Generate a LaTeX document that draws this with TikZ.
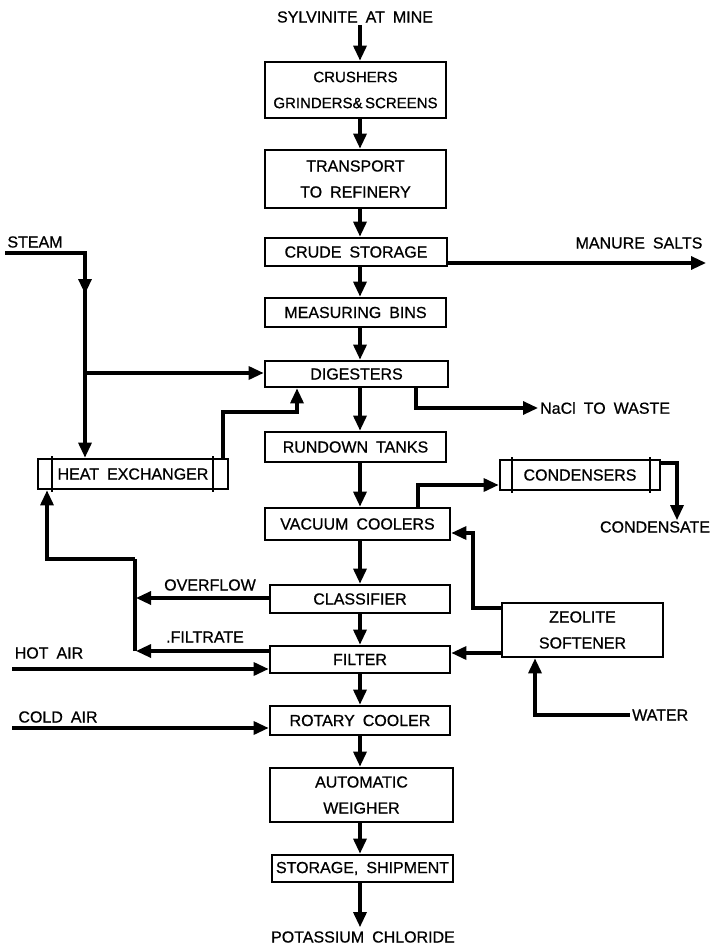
\documentclass[tikz,border=0pt]{standalone}
\usepackage{fontspec}
\setmainfont[FakeBold=0.7,WordSpace=1.8]{Liberation Sans}
\usetikzlibrary{arrows.meta}
\begin{document}
\begin{tikzpicture}[x=1pt,y=-1pt,
  lab/.style={font=\fontsize{16}{26}\selectfont, inner sep=2pt, align=center},
  box/.style={draw, line width=2.7pt, inner sep=0pt, align=center,
    font=\fontsize{16}{26}\selectfont},
  pipe/.style={line width=3.2pt, line join=miter},
  flow/.style={pipe, -{Triangle[length=15pt,width=13pt]}},
  tubeline/.style={line width=1.8pt}
]
\fill[white] (0,0) rectangle (710,947);
\useasboundingbox (0,0) rectangle (710,947);

\coordinate (col) at (360,0);

% main column boxes
\node[box, minimum width=181, minimum height=56, font=\fontsize{15}{26}\selectfont] (crush) at (355.5,90) {CRUSHERS\\GRINDERS\&\,SCREENS};
\node[box, minimum width=181, minimum height=58] (trans) at (355.5,179) {TRANSPORT\\TO REFINERY};
\node[box, minimum width=182, minimum height=28] (crude) at (356,252) {CRUDE STORAGE};
\node[box, minimum width=181, minimum height=29] (meas) at (355.5,312.5) {MEASURING BINS};
\node[box, minimum width=183, minimum height=26] (dig) at (356.5,374) {DIGESTERS};
\node[box, minimum width=181, minimum height=30] (rund) at (355.5,447) {RUNDOWN TANKS};
\node[box, minimum width=185, minimum height=32] (vac) at (357.5,524) {VACUUM COOLERS};
\node[box, minimum width=180, minimum height=28] (cls) at (360,599) {CLASSIFIER};
\node[box, minimum width=180, minimum height=27] (filt) at (360,659.5) {FILTER};
\node[box, minimum width=180, minimum height=29] (rot) at (360,720.5) {ROTARY COOLER};
\node[box, minimum width=183, minimum height=54] (weigh) at (361.5,795) {AUTOMATIC\\WEIGHER};
\node[box, minimum width=181, minimum height=27] (store) at (362.5,868.5) {STORAGE, SHIPMENT};

% side boxes
\node[box, minimum width=190, minimum height=30] (he) at (133,474) {HEAT EXCHANGER};
\node[box, minimum width=160, minimum height=30] (cond) at (580,475) {CONDENSERS};
\node[box, minimum width=161, minimum height=54] (zeo) at (582.5,630) {ZEOLITE\\SOFTENER};

% tube end marks
\draw[tubeline] (52,456) -- (52,492);
\draw[tubeline] (213,456) -- (213,492);
\draw[tubeline] (512,457) -- (512,493);
\draw[tubeline] (650,457) -- (650,493);

% labels
\node[lab] (sylv) at (355,17) {SYLVINITE AT MINE};
\node[lab, inner sep=4pt] (potas) at (363,937) {POTASSIUM CHLORIDE};
\node[lab] (steam) at (35,242) {STEAM};
\node[lab] (manure) at (639,243) {MANURE SALTS};
\node[lab, anchor=west] (nacl) at (538,408) {NaCl TO WASTE};
\node[lab, inner sep=1pt] (condensate) at (655,527) {CONDENSATE};
\node[lab] (overflow) at (210,585) {OVERFLOW};
\node[lab] (filtrate) at (205,637) {.FILTRATE};
\node[lab] (hotair) at (49,653) {HOT AIR};
\node[lab] (coldair) at (58,717) {COLD AIR};
\node[lab, anchor=west] (water) at (630,715) {WATER};

% main column arrows
\draw[flow] (sylv.south -| col) -- (crush.north -| col);
\draw[flow] (crush.south -| col) -- (trans.north -| col);
\draw[flow] (trans.south -| col) -- (crude.north -| col);
\draw[flow] (crude.south -| col) -- (meas.north -| col);
\draw[flow] (meas.south -| col) -- (dig.north -| col);
\draw[flow] (dig.south -| col) -- (rund.north -| col);
\draw[flow] (rund.south -| col) -- (vac.north -| col);
\draw[flow] (vac.south -| col) -- (cls.north -| col);
\draw[flow] (cls.south -| col) -- (filt.north -| col);
\draw[flow] (filt.south -| col) -- (rot.north -| col);
\draw[flow] (rot.south -| col) -- (weigh.north -| col);
\draw[flow] (weigh.south -| col) -- (store.north -| col);
\draw[flow] (store.south -| col) -- (potas.north -| col);

% steam
\coordinate (s0) at (5,253);
\coordinate (s1) at (85,253);
\coordinate (smid) at (85,294);
\coordinate (s2) at (85,373);
\draw[flow] (s0) -- (s1) -- (smid);
\draw[flow] (s1) -- (he.north -| s1);
\draw[flow] (s2) -- (dig.west |- s2);

% heat exchanger to digesters
\coordinate (h1) at (223,412);
\coordinate (h2) at (297,412);
\draw[flow] (he.north -| h1) -- (h1) -- (h2) -- (dig.south -| h2);

% manure salts
\coordinate (m0) at (446,263);
\coordinate (m1) at (706,263);
\draw[flow] (crude.east |- m0) -- (m1);

% NaCl to waste
\coordinate (n1) at (416,408);
\draw[flow] (dig.south -| n1) -- (n1) -- (nacl.west);

% vacuum coolers to condensers
\coordinate (v1) at (418,485);
\draw[flow] (vac.north -| v1) -- (v1) -- (cond.west |- v1);

% condensers to condensate
\coordinate (c1) at (677,463);
\draw[flow] (cond.east |- c1) -- (c1) -- (c1 |- condensate.north);

% zeolite to vacuum coolers
\coordinate (z1) at (473,608);
\coordinate (z2) at (473,533);
\draw[flow] (zeo.west |- z1) -- (z1) -- (z2) -- (vac.east |- z2);

% zeolite to filter
\coordinate (z3) at (500,653);
\draw[flow] (zeo.west |- z3) -- (filt.east |- z3);

% water
\coordinate (w1) at (535,715);
\draw[flow] (water.west) -- (w1) -- (zeo.south -| w1);

% overflow and filtrate
\coordinate (L1) at (136,598);
\coordinate (L2) at (136,651);
\coordinate (L3) at (135,559);
\coordinate (L4) at (47,559);
\draw[flow] (cls.west |- L1) -- (L1);
\draw[flow] (filt.west |- L2) -- (L2);
\draw[pipe] (135,651) -- (L3);
\draw[flow] (L3) -- (L4) -- (he.south -| L4);

% hot and cold air
\coordinate (ha) at (12,669);
\coordinate (ca) at (12,728);
\draw[flow] (ha) -- (filt.west |- ha);
\draw[flow] (ca) -- (rot.west |- ca);
\end{tikzpicture}
\end{document}
